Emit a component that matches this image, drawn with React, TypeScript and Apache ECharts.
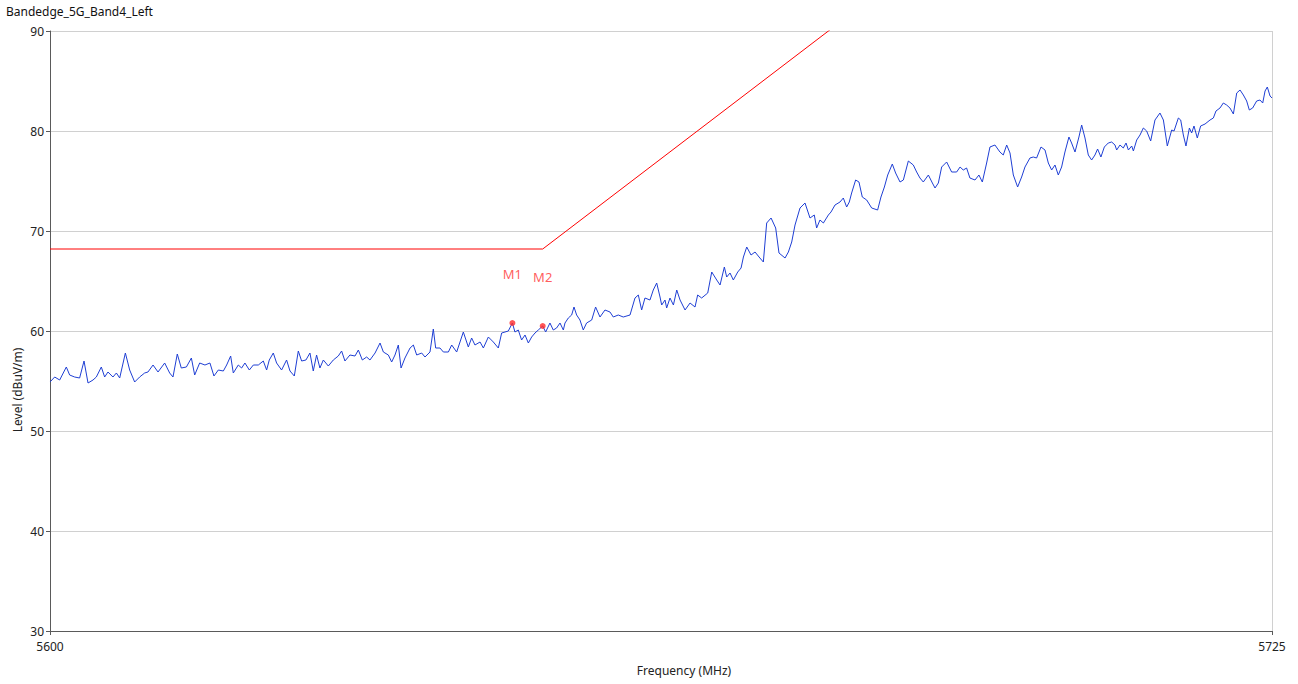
import React, { useEffect, useRef } from "react";
import * as echarts from "echarts";

const titleText = "Bandedge_5G_Band4_Left";
const xName = "Frequency (MHz)";
const yName = "Level (dBuV/m)";

const freqs = [
  5600.00, 5600.48, 5600.99, 5601.67, 5602.01, 5602.52, 5603.03, 5603.48, 5603.89, 5604.40,
  5604.74, 5605.25, 5605.59, 5605.93, 5606.44, 5606.79, 5607.13, 5607.71, 5608.15, 5608.66,
  5609.17, 5609.68, 5610.02, 5610.54, 5611.05, 5611.73, 5612.24, 5612.58, 5613.02, 5613.43,
  5613.95, 5614.46, 5614.80, 5615.31,
  5615.85, 5616.36, 5616.77, 5617.22, 5617.73, 5618.07, 5618.48, 5618.75, 5619.26, 5619.60,
  5619.94, 5620.39, 5620.80, 5621.31, 5621.82, 5622.16, 5622.43, 5622.84, 5623.18, 5623.69,
  5624.20, 5624.55, 5624.99, 5625.40, 5625.74, 5626.18, 5626.59, 5626.93, 5627.27, 5627.61,
  5627.96, 5628.47, 5628.98, 5629.49, 5629.83, 5630.17, 5630.68, 5631.20, 5631.54,
  5631.95, 5632.39, 5632.73, 5633.25, 5633.76, 5634.10, 5634.61, 5634.95, 5635.29, 5635.63,
  5635.91, 5636.31, 5636.83, 5637.17, 5637.51, 5638.02, 5638.36, 5638.87, 5639.21, 5639.45,
  5639.89, 5640.24, 5640.75, 5641.09, 5641.60, 5642.28, 5642.79, 5643.13, 5643.47, 5643.99,
  5644.33, 5644.84, 5645.35, 5645.86, 5646.20, 5646.88,
  5647.30, 5647.56, 5647.90, 5648.24, 5648.59, 5648.93, 5649.27, 5649.61, 5649.95, 5650.40,
  5650.70, 5651.14, 5651.48, 5651.82, 5652.17, 5652.51, 5652.68, 5653.02, 5653.36, 5653.60,
  5653.87, 5654.21, 5654.55, 5654.89, 5655.41, 5655.81, 5656.26, 5656.77, 5657.28, 5657.62,
  5658.13, 5658.64, 5659.33, 5659.84, 5660.18, 5660.52, 5660.86, 5661.37, 5661.71, 5662.06,
  5662.40,
  5662.57, 5662.91, 5663.08, 5663.42, 5663.77, 5664.11, 5664.45, 5664.96, 5665.47, 5665.98,
  5666.25, 5666.66, 5667.28, 5667.69, 5668.20, 5668.54, 5668.98, 5669.22, 5669.56, 5669.90,
  5670.35, 5670.69, 5670.93, 5671.27, 5671.71, 5672.12, 5672.53, 5672.97, 5673.31, 5673.76,
  5674.23, 5674.57, 5675.19, 5675.53, 5675.87, 5676.21, 5676.72, 5677.23, 5677.74,
  5678.18, 5678.42, 5678.76, 5679.11, 5679.62, 5679.89, 5680.30, 5680.81, 5681.15, 5681.49,
  5681.76, 5682.00, 5682.41, 5682.75, 5683.09, 5683.54, 5684.05, 5684.66, 5685.00, 5685.35,
  5685.69, 5686.16, 5686.50, 5686.95, 5687.29, 5687.80, 5688.31, 5688.65, 5688.99, 5689.33,
  5689.85, 5690.26, 5690.53, 5690.87, 5691.21, 5691.72, 5692.23, 5692.74, 5693.09,
  5693.42, 5693.76, 5694.10, 5694.62, 5695.02, 5695.37, 5695.81, 5696.15, 5696.66, 5697.17,
  5697.51, 5697.86, 5698.20, 5698.54, 5698.98, 5699.39, 5699.73, 5700.24, 5700.58, 5700.92,
  5701.37, 5701.78, 5702.12, 5702.46, 5702.80, 5703.14, 5703.48, 5703.82, 5704.23, 5704.50,
  5704.85, 5705.25, 5705.53, 5705.87, 5706.21, 5706.55, 5706.89, 5707.16, 5707.50, 5707.85,
  5708.25, 5708.60, 5708.94,
  5709.11, 5709.45, 5709.79, 5710.07, 5710.31, 5710.65, 5710.82, 5711.16, 5711.50, 5711.84,
  5712.18, 5712.59, 5713.03, 5713.54, 5713.89, 5714.29, 5714.57, 5714.74, 5714.98, 5715.42,
  5715.66, 5715.93, 5716.20, 5716.55, 5716.78, 5717.02, 5717.36, 5717.70, 5718.15, 5718.66,
  5719.00, 5719.27, 5719.68, 5720.02, 5720.36, 5720.70, 5721.05, 5721.39, 5721.73, 5722.07,
  5722.41, 5722.68, 5723.02, 5723.43, 5723.77, 5724.05, 5724.29, 5724.52, 5724.80, 5725.00,
];

const levels = [
  54.9, 55.4, 55.1, 56.4, 55.6, 55.4, 55.3, 57.0, 54.8, 55.1,
  55.4, 56.4, 55.4, 55.9, 55.4, 55.8, 55.3, 57.8, 56.1, 54.9,
  55.4, 55.8, 55.9, 56.6, 55.9, 56.8, 55.8, 55.4, 57.7, 56.3,
  56.4, 57.3, 55.6, 56.8,
  56.6, 56.8, 55.5, 56.1, 56.0, 56.6, 57.5, 55.8, 56.6, 56.3,
  56.8, 56.1, 56.6, 56.6, 57.0, 56.1, 57.1, 57.8, 56.8, 56.1,
  57.1, 56.0, 55.5, 58.0, 57.0, 57.1, 57.8, 56.0, 57.6, 56.3,
  57.1, 56.5, 57.1, 57.5, 58.0, 57.0, 57.6, 57.5, 58.1,
  57.1, 57.4, 57.1, 57.8, 58.8, 57.9, 57.6, 56.9, 57.6, 58.6,
  56.3, 57.3, 58.3, 58.6, 57.6, 57.8, 57.4, 57.9, 60.2, 58.3,
  58.3, 57.9, 57.9, 58.6, 57.9, 59.9, 58.4, 59.3, 58.6, 58.9,
  58.3, 59.4, 58.9, 58.3, 59.8, 60.0,
  60.8, 59.9, 60.1, 59.1, 59.6, 58.8, 59.4, 59.8, 60.1, 60.5,
  59.9, 60.8, 60.1, 60.3, 60.8, 60.1, 60.8, 61.3, 61.6, 62.4,
  61.6, 61.1, 60.1, 60.8, 61.1, 62.4, 61.4, 62.1, 61.9, 61.4,
  61.6, 61.4, 61.6, 63.3, 63.6, 62.1, 63.3, 63.1, 64.1, 64.8,
  63.4,
  62.6, 63.1, 62.3, 63.3, 62.6, 64.1, 63.1, 62.1, 62.8, 62.4,
  63.6, 63.3, 63.8, 65.9, 65.1, 64.6, 66.4, 65.4, 65.8, 65.1,
  65.9, 66.3, 67.4, 68.4, 67.6, 67.9, 67.4, 66.9, 70.8, 71.3,
  70.3, 67.8, 67.3, 67.9, 68.9, 70.6, 72.3, 72.8, 71.3,
  71.6, 70.3, 71.1, 70.8, 71.6, 71.9, 72.6, 72.9, 73.3, 72.4,
  72.9, 73.8, 75.1, 74.9, 73.4, 73.1, 72.3, 72.1, 73.4, 74.4,
  75.6, 76.7, 75.8, 74.9, 75.1, 77.0, 76.6, 75.9, 75.3, 74.9,
  75.6, 74.8, 74.3, 74.8, 76.4, 76.9, 75.9, 75.9, 76.4,
  76.1, 76.3, 75.3, 75.1, 75.6, 74.9, 76.8, 78.4, 78.6, 77.9,
  77.6, 78.6, 77.8, 75.6, 74.4, 75.4, 76.4, 77.3, 77.4, 77.3,
  78.4, 78.1, 76.8, 76.1, 76.6, 75.6, 76.4, 77.9, 79.4, 78.8,
  77.9, 79.4, 80.6, 79.3, 77.6, 77.1, 77.6, 78.2, 77.4, 78.4,
  78.8, 78.9, 78.6,
  78.1, 78.6, 78.3, 78.8, 78.1, 78.5, 78.0, 79.1, 79.6, 80.3,
  80.0, 79.0, 81.1, 81.8, 81.1, 78.5, 79.5, 80.1, 80.0, 81.3,
  81.1, 79.6, 78.5, 80.3, 79.8, 80.5, 79.3, 80.5, 80.7, 81.1,
  81.3, 82.0, 82.3, 82.8, 82.6, 82.3, 81.7, 83.8, 84.1, 83.6,
  83.0, 82.1, 82.3, 83.0, 83.1, 82.8, 84.0, 84.4, 83.5, 83.3,
];

const limitFreqs = [5600, 5650.4, 5700];
const limitLevels = [68.2, 68.2, 105.2];

const markerNames = ["M1", "M2"];
const markerFreqs = [5647.3, 5650.4];
const markerLevels = [60.8, 60.5];

const xTickLabels = ["5600", "5725"];

const FONT = "'Noto Sans', 'Open Sans', sans-serif";

export default function App() {
  const ref = useRef<HTMLDivElement>(null);

  useEffect(() => {
    if (!ref.current) return;
    const chart = echarts.init(ref.current, null, { renderer: "svg" });
    const trace = freqs.map((f, i) => [f, levels[i]]);
    const limit = limitFreqs.map((f, i) => [f, limitLevels[i]]);
    const markers = markerFreqs.map((f, i) => ({ value: [f, markerLevels[i]], name: markerNames[i] }));

    chart.setOption({
      animation: false,
      backgroundColor: "#ffffff",
      textStyle: { fontFamily: FONT },
      grid: { left: 50, right: 26, top: 31, bottom: 53, containLabel: false, outerBoundsMode: "none" },
      xAxis: {
        type: "value",
        min: 5600,
        max: 5725,
        interval: 125,
        axisLine: { show: true, onZero: false, lineStyle: { color: "#5a5a5a", width: 1 } },
        axisTick: { show: true, length: 4, lineStyle: { color: "#5a5a5a" } },
        axisLabel: {
          color: "#222",
          fontSize: 12,
          margin: 9,
          fontFamily: FONT,
          hideOverlap: false,
          formatter: (v: number) => (v <= 5600 ? xTickLabels[0] : xTickLabels[1]),
        },
        splitLine: { show: true, lineStyle: { color: "#d0d0d0", width: 1 } },
      },
      yAxis: {
        type: "value",
        min: 30,
        max: 90,
        interval: 10,
        axisLine: { show: true, onZero: false, lineStyle: { color: "#5a5a5a", width: 1 } },
        axisTick: { show: true, length: 4, lineStyle: { color: "#5a5a5a" } },
        axisLabel: { color: "#222", fontSize: 12, margin: 6, fontFamily: FONT },
        splitLine: { show: true, lineStyle: { color: "#d0d0d0", width: 1 } },
      },
      series: [
        {
          type: "line",
          data: limit,
          showSymbol: false,
          clip: true,
          lineStyle: { color: "#ff0000", width: 1 },
          itemStyle: { color: "#ff0000" },
          z: 2,
        },
        {
          type: "line",
          data: trace,
          showSymbol: false,
          clip: true,
          lineStyle: { color: "#1f3fd4", width: 1 },
          itemStyle: { color: "#1f3fd4" },
          z: 3,
        },
        {
          type: "scatter",
          data: markers,
          symbolSize: 6,
          itemStyle: { color: "#ff2a2a" },
          label: {
            show: true,
            position: "top",
            distance: 40,
            formatter: (p: any) => p.name,
            color: "#ff3333",
            fontSize: 13,
            fontFamily: FONT,
          },
          z: 5,
        },
      ],
      graphic: [
        {
          type: "text",
          left: 6,
          top: 5,
          style: { text: titleText, fill: "#111", font: `12px ${FONT}` },
        },
        {
          type: "text",
          x: 684,
          y: 670,
          style: { text: xName, fill: "#222", font: `12px ${FONT}`, align: "center", verticalAlign: "middle" },
        },
        {
          type: "text",
          x: 17,
          y: 390,
          rotation: Math.PI / 2,
          style: { text: yName, fill: "#222", font: `12px ${FONT}`, align: "center", verticalAlign: "middle" },
        },
      ],
    });

    return () => chart.dispose();
  }, []);

  return (
    <div
      ref={ref}
      style={{ position: "fixed", left: 0, top: 0, width: 1298, height: 684, background: "#fff" }}
    />
  );
}
